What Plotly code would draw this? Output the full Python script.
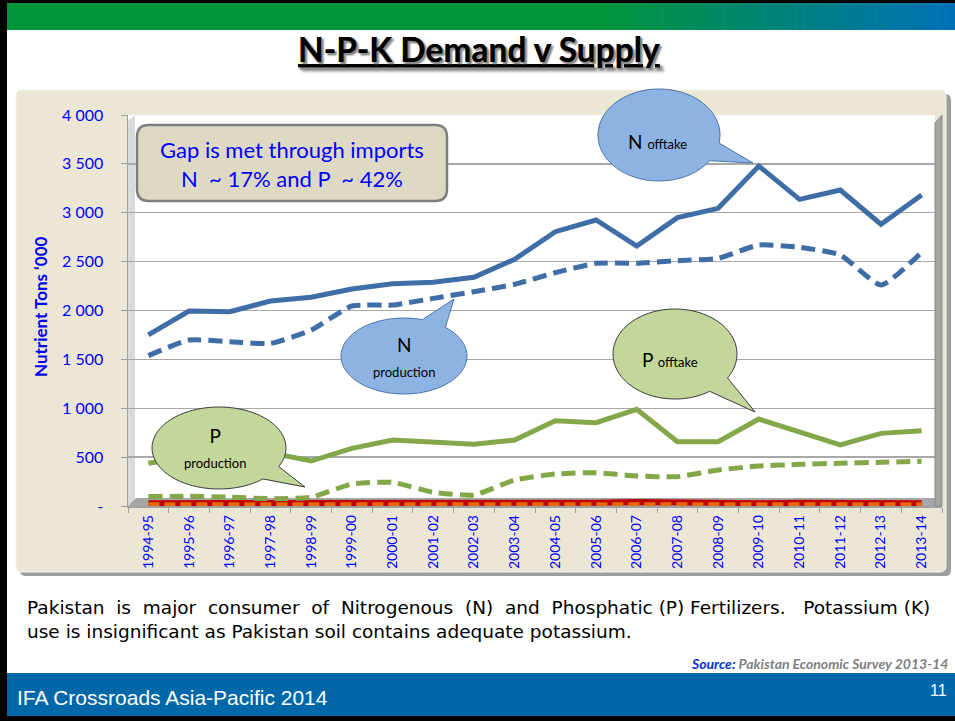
import numpy as np
import plotly.graph_objects as go

W, H = 955, 721

years = ["1994-95", "1995-96", "1996-97", "1997-98", "1998-99", "1999-00", "2000-01",
         "2001-02", "2002-03", "2003-04", "2004-05", "2005-06", "2006-07", "2007-08",
         "2008-09", "2009-10", "2010-11", "2011-12", "2012-13", "2013-14"]
n_offtake = [1750, 1995, 1988, 2097, 2135, 2220, 2274, 2288, 2340, 2524,
             2806, 2926, 2660, 2950, 3045, 3478, 3137, 3232, 2882, 3181]
n_production = [1538, 1698, 1681, 1664, 1800, 2046, 2056, 2124, 2192, 2268,
                2387, 2483, 2483, 2510, 2534, 2670, 2646, 2568, 2261, 2595]
p_offtake = [437, 500, 420, 545, 460, 590, 675, 648, 631, 675,
             873, 852, 989, 658, 658, 890, 760, 624, 743, 770]
p_production = [96, 99, 90, 75, 89, 225, 242, 140, 113, 266,
                327, 341, 307, 300, 368, 409, 426, 437, 447, 457]
k_offtake = [28, 28, 28, 26, 26, 26, 28, 28, 28, 30,
             32, 34, 42, 36, 28, 28, 32, 28, 28, 28]
k_production = [14, 14, 14, 14, 14, 14, 14, 14, 14, 14,
                14, 14, 14, 14, 14, 14, 14, 14, 14, 14]
y_ticks = [0, 500, 1000, 1500, 2000, 2500, 3000, 3500, 4000]
y_tick_text = ["-", "500", "1 000", "1 500", "2 000", "2 500", "3 000", "3 500", "4 000"]


def px(x):
    return x / W


def py(y):
    return 1 - y / H


def poly_path(pts):
    return "M " + " L ".join(f"{px(x):.5f},{py(y):.5f}" for x, y in pts) + " Z"


def bubble_path(cx, cy, rx, ry, a0, a1, tip):
    ts = np.radians(np.linspace(a1, a0 + 360, 90))
    pts = [(cx + rx * np.cos(t), cy + ry * np.sin(t)) for t in ts]
    pts.append(tip)
    return poly_path(pts)


def rounded_rect(x0, y0, x1, y1, r):
    return (f"M {px(x0 + r)},{py(y0)} L {px(x1 - r)},{py(y0)} Q {px(x1)},{py(y0)} {px(x1)},{py(y0 + r)} "
            f"L {px(x1)},{py(y1 - r)} Q {px(x1)},{py(y1)} {px(x1 - r)},{py(y1)} "
            f"L {px(x0 + r)},{py(y1)} Q {px(x0)},{py(y1)} {px(x0)},{py(y1 - r)} "
            f"L {px(x0)},{py(y0 + r)} Q {px(x0)},{py(y0)} {px(x0 + r)},{py(y0)} Z")


N_BLUE = "#3F6EA7"
P_GREEN = "#84A74A"
K_RED = "#C00000"
K_ORANGE = "#E46C0A"
TXT_BLUE = "#0000FF"

fig = go.Figure()
fig.add_trace(go.Scatter(x=years, y=k_offtake, mode="lines",
                         line=dict(color=K_RED, width=6), hoverinfo="skip"))
fig.add_trace(go.Scatter(x=years, y=k_production, mode="lines",
                         line=dict(color=K_ORANGE, width=5, dash="11px,5px"), hoverinfo="skip"))
fig.add_trace(go.Scatter(x=years, y=p_production, mode="lines",
                         line=dict(color=P_GREEN, width=5, dash="14px,7px", shape="spline", smoothing=0.5),
                         hoverinfo="skip"))
fig.add_trace(go.Scatter(x=years, y=p_offtake, mode="lines",
                         line=dict(color=P_GREEN, width=5), hoverinfo="skip"))
fig.add_trace(go.Scatter(x=years, y=n_production, mode="lines",
                         line=dict(color=N_BLUE, width=5, dash="14px,7px", shape="spline", smoothing=0.5),
                         hoverinfo="skip"))
fig.add_trace(go.Scatter(x=years, y=n_offtake, mode="lines",
                         line=dict(color=N_BLUE, width=5), hoverinfo="skip"))

shapes = []
# slide frame
shapes.append(dict(type="rect", xref="paper", yref="paper", x0=0, x1=px(7), y0=0, y1=1,
                   fillcolor="black", line_width=0, layer="below"))
shapes.append(dict(type="rect", xref="paper", yref="paper", x0=0, x1=1, y0=py(3), y1=1,
                   fillcolor="black", line_width=0, layer="below"))
shapes.append(dict(type="rect", xref="paper", yref="paper", x0=0, x1=1, y0=0, y1=py(716),
                   fillcolor="black", line_width=0, layer="below"))
# header gradient
g0 = np.array([0, 150, 58])
g1 = np.array([0, 112, 184])
shapes.append(dict(type="rect", xref="paper", yref="paper", x0=px(7), x1=px(600), y0=py(30), y1=py(3),
                   fillcolor="rgb(0,150,58)", line_width=0, layer="below"))
nstrip = 40
edges = np.linspace(600, 955, nstrip + 1)
for i in range(nstrip):
    f = (i + 0.5) / nstrip
    c = g0 + (g1 - g0) * f
    shapes.append(dict(type="rect", xref="paper", yref="paper", x0=px(edges[i]), x1=px(edges[i + 1] + 0.6),
                       y0=py(30), y1=py(3), fillcolor=f"rgb({int(c[0])},{int(c[1])},{int(c[2])})",
                       line_width=0, layer="below"))
# footer
shapes.append(dict(type="rect", xref="paper", yref="paper", x0=px(7), x1=1, y0=py(716), y1=py(673),
                   fillcolor="#0068A9", line_width=0, layer="below"))
# chart box with shadow
shapes.append(dict(type="path", xref="paper", yref="paper", path=rounded_rect(20, 94, 951, 576, 6),
                   fillcolor="#9E9E9E", line_width=0, layer="below"))
shapes.append(dict(type="path", xref="paper", yref="paper", path=rounded_rect(16, 90, 946, 572, 6),
                   fillcolor="#EBE7D4", line=dict(color="#F5F3EA", width=1), layer="below"))
# plot area walls
shapes.append(dict(type="rect", xref="paper", yref="paper", x0=px(128), x1=px(935), y0=py(506), y1=py(115),
                   fillcolor="white", line_width=0, layer="below"))
shapes.append(dict(type="path", xref="paper", yref="paper",
                   path=poly_path([(128, 121), (135, 115), (135, 499), (128, 506)]),
                   fillcolor="#DADADA", line_width=0, layer="below"))
shapes.append(dict(type="path", xref="paper", yref="paper",
                   path=poly_path([(935, 123), (942, 115), (942, 506), (935, 506)]),
                   fillcolor="#A3A3A3", line=dict(color="#8C8C8C", width=1), layer="above"))
shapes.append(dict(type="path", xref="paper", yref="paper",
                   path=poly_path([(128, 506), (136, 498), (942, 498), (942, 506)]),
                   fillcolor="#A6A6A6", line_width=0, layer="between"))

# text box
shapes.append(dict(type="path", xref="paper", yref="paper", path=rounded_rect(137, 125, 447, 201, 12),
                   fillcolor="#DDD9C3", line=dict(color="#7F7F7F", width=2.5), layer="above"))
# bubbles
BLUE_FILL, BLUE_LINE = "#8DB3E2", "#4A76A8"
GREEN_FILL, GREEN_LINE = "#C3D69B", "#3A3A3A"
shapes.append(dict(type="path", xref="paper", yref="paper",
                   path=bubble_path(659, 135, 61, 46, 10, 34, (753, 163)),
                   fillcolor=BLUE_FILL, line=dict(color=BLUE_LINE, width=1), layer="above"))
shapes.append(dict(type="path", xref="paper", yref="paper",
                   path=bubble_path(404, 356, 63, 38, -73, -49, (454, 299)),
                   fillcolor=BLUE_FILL, line=dict(color=BLUE_LINE, width=1), layer="above"))
shapes.append(dict(type="path", xref="paper", yref="paper",
                   path=bubble_path(675, 354, 62, 45, 32, 56, (755, 412)),
                   fillcolor=GREEN_FILL, line=dict(color=GREEN_LINE, width=1), layer="above"))
shapes.append(dict(type="path", xref="paper", yref="paper",
                   path=bubble_path(219, 448, 67, 41, 27, 49, (305, 487)),
                   fillcolor=GREEN_FILL, line=dict(color=GREEN_LINE, width=1), layer="above"))

BF = "Lato, Carlito, Calibri, sans-serif"
annotations = []


def ann(text, x, y, size, color="black", xanchor="center", yanchor="middle", family=BF, **kw):
    d = dict(text=text, x=px(x), y=py(y), xref="paper", yref="paper", showarrow=False,
             xanchor=xanchor, yanchor=yanchor, font=dict(family=family, size=size, color=color))
    d["font"].update(kw.pop("font_extra", {}))
    d.update(kw)
    annotations.append(d)


ann("<b>N-P-K Demand v Supply</b>", 479, 49, 33.5,
    font_extra=dict(lineposition="under", shadow="2px 2px 2px #8A8A8A"))
ann("<b>Nutrient Tons ‘000</b>", 40, 307, 17, color=TXT_BLUE, textangle=-90)
ann("Gap is met through imports<br>N  ~ 17% and P  ~ 42%", 292, 164, 22, color=TXT_BLUE)
ann("N <span style='font-size:13px'>offtake</span>", 657, 141, 19)
ann("N<br><span style='font-size:13px'>production</span>", 404, 356, 19)
ann("P <span style='font-size:13px'>offtake</span>", 670, 359, 19)
ann("P<br><span style='font-size:13px'>production</span>", 215, 448, 19)
ann("Pakistan&nbsp; is&nbsp; major&nbsp; consumer&nbsp; of&nbsp; Nitrogenous&nbsp; (N)&nbsp; and&nbsp; "
    "Phosphatic (P) Fertilizers.&nbsp;&nbsp; Potassium (K)"
    "<br>use is insignificant as Pakistan soil contains adequate potassium.",
    25, 619, 18.5, xanchor="left", align="left",
    family="DejaVu Sans, Verdana, sans-serif")
ann("<b><i><span style='color:#0033CC'>Source:</span> Pakistan Economic Survey 2013-14</i></b>",
    950, 663, 14, color="#7F7F7F", xanchor="right")
ann("IFA Crossroads Asia-Pacific 2014", 15, 697, 21, color="white", xanchor="left",
    family="Liberation Sans Narrow, Arial Narrow, Liberation Sans, sans-serif")
ann("11", 938, 690, 16, color="white", family="Liberation Sans, Arial, sans-serif")

fig.update_layout(
    width=W, height=H, autosize=False,
    margin=dict(l=0, r=0, t=0, b=0, pad=0, autoexpand=False),
    paper_bgcolor="white", plot_bgcolor="rgba(0,0,0,0)",
    showlegend=False,
    shapes=shapes, annotations=annotations,
    xaxis=dict(domain=[px(128), px(942)], range=[-0.5, 19.5], type="category", automargin=False,
               showgrid=False, showline=True, linecolor="#A0A0A0", linewidth=1.5,
               ticks="outside", ticklen=5, tickcolor="#A0A0A0", tickson="boundaries",
               tickangle=-90, tickfont=dict(family=BF, size=14, color=TXT_BLUE),
               ticklabelstandoff=2, zeroline=False, fixedrange=True),
    yaxis=dict(domain=[py(506), py(115)], range=[0, 4000], tickvals=y_ticks, ticktext=y_tick_text,
               automargin=False,
               showgrid=True, gridcolor="#A8A8A8", gridwidth=1.3,
               showline=True, linecolor="#A0A0A0", linewidth=1.5,
               ticks="outside", ticklen=6, tickcolor="#A0A0A0",
               tickfont=dict(family=BF, size=16, color=TXT_BLUE),
               ticklabelstandoff=14, zeroline=False, fixedrange=True),
)

fig.write_html("out.html", config={"displayModeBar": False, "staticPlot": True},
               post_script="document.body.style.margin='0px';document.body.style.overflow='hidden';")
